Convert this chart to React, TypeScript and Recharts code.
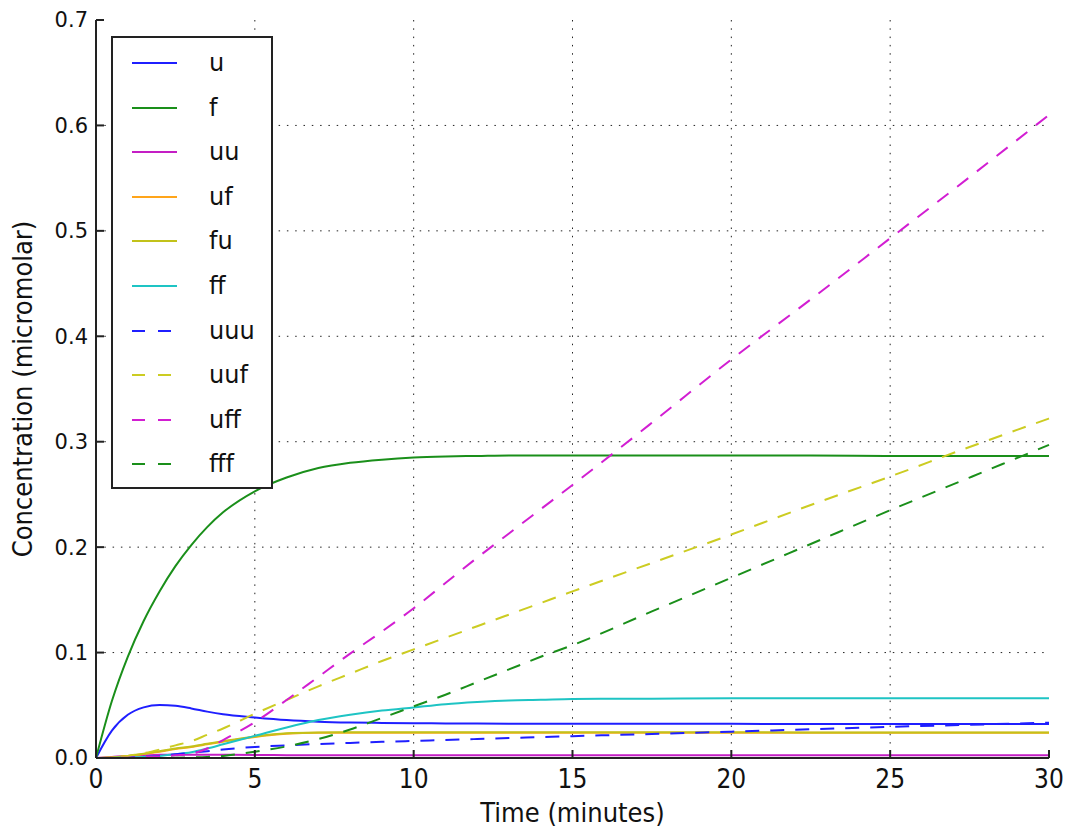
import React from 'react';
import { LineChart, Line, XAxis, YAxis, CartesianGrid } from 'recharts';

const time = [0, 0.5, 1, 1.5, 2, 2.5, 3, 3.5, 4, 5, 6, 7, 8, 9, 10, 11, 12, 13, 14, 15, 17.5, 20, 22.5, 25, 27.5, 30];

const u = [0, 0.026, 0.041, 0.048, 0.0503, 0.0495, 0.047, 0.044, 0.0415, 0.0385, 0.036, 0.0345, 0.0337, 0.0333, 0.033, 0.0328, 0.0327, 0.0326, 0.0325, 0.0325, 0.0324, 0.0324, 0.0323, 0.0323, 0.0323, 0.0323];
const f = [0, 0.054, 0.096, 0.13, 0.158, 0.182, 0.202, 0.219, 0.233, 0.253, 0.266, 0.275, 0.28, 0.283, 0.285, 0.286, 0.2865, 0.287, 0.287, 0.287, 0.287, 0.287, 0.287, 0.2865, 0.2865, 0.2865];
const uu = [0, 0.001, 0.002, 0.0025, 0.003, 0.003, 0.003, 0.003, 0.003, 0.0028, 0.0027, 0.0026, 0.0025, 0.0025, 0.0025, 0.0025, 0.0025, 0.0025, 0.0025, 0.0025, 0.0025, 0.0025, 0.0025, 0.0025, 0.0025, 0.0025];
const uf = [0, 0.0005, 0.0018, 0.0038, 0.006, 0.0085, 0.0105, 0.013, 0.0155, 0.02, 0.023, 0.024, 0.024, 0.024, 0.024, 0.024, 0.024, 0.024, 0.024, 0.024, 0.024, 0.024, 0.024, 0.024, 0.024, 0.024];
const fu = [0, 0.0005, 0.002, 0.004, 0.0065, 0.009, 0.011, 0.0135, 0.016, 0.0205, 0.0235, 0.0243, 0.0245, 0.0245, 0.0245, 0.0245, 0.0245, 0.0245, 0.0245, 0.0244, 0.0244, 0.0244, 0.0243, 0.0243, 0.0243, 0.0243];
const ff = [0, 0.0001, 0.0005, 0.001, 0.002, 0.0035, 0.0055, 0.009, 0.013, 0.021, 0.029, 0.036, 0.041, 0.045, 0.048, 0.051, 0.053, 0.0545, 0.0552, 0.056, 0.0563, 0.0566, 0.0567, 0.0567, 0.0567, 0.0567];
const uuu = [0, 0.0001, 0.0005, 0.001, 0.002, 0.0035, 0.005, 0.0065, 0.008, 0.0105, 0.012, 0.0133, 0.0143, 0.0153, 0.0162, 0.0171, 0.018, 0.0189, 0.0198, 0.0207, 0.0228, 0.025, 0.0272, 0.0295, 0.0315, 0.0335];
const uuf = [0, 0.0005, 0.002, 0.0045, 0.008, 0.012, 0.016, 0.022, 0.028, 0.042, 0.055, 0.068, 0.08, 0.092, 0.103, 0.114, 0.125, 0.136, 0.147, 0.158, 0.185, 0.212, 0.24, 0.267, 0.295, 0.322];
const uff = [0, 0.0001, 0.0003, 0.0008, 0.0015, 0.0025, 0.004, 0.009, 0.017, 0.034, 0.055, 0.077, 0.099, 0.12, 0.142, 0.166, 0.19, 0.213, 0.236, 0.259, 0.318, 0.378, 0.435, 0.493, 0.551, 0.61];
const fff = [0, 0, 0, 0, 0.0001, 0.0002, 0.0005, 0.001, 0.002, 0.006, 0.011, 0.018, 0.027, 0.038, 0.049, 0.06, 0.072, 0.084, 0.096, 0.107, 0.139, 0.171, 0.203, 0.235, 0.266, 0.297];

const xTicks = [0, 5, 10, 15, 20, 25, 30];
const yTicks = [0, 0.1, 0.2, 0.3, 0.4, 0.5, 0.6, 0.7];

const series = [
  { key: 'u', values: u, color: '#1f1fff', dash: undefined },
  { key: 'f', values: f, color: '#1a8f1a', dash: undefined },
  { key: 'uu', values: uu, color: '#c41ec4', dash: undefined },
  { key: 'uf', values: uf, color: '#ffa51a', dash: undefined },
  { key: 'fu', values: fu, color: '#c2c21a', dash: undefined },
  { key: 'ff', values: ff, color: '#1ec4c4', dash: undefined },
  { key: 'uuu', values: uuu, color: '#1f1fff', dash: '14 11' },
  { key: 'uuf', values: uuf, color: '#cccc22', dash: '14 11' },
  { key: 'uff', values: uff, color: '#d21ed2', dash: '14 11' },
  { key: 'fff', values: fff, color: '#1a8f1a', dash: '14 11' },
];

const data = time.map((t, i) => {
  const row: any = { t };
  series.forEach(s => { row[s.key] = s.values[i]; });
  return row;
});

const font = 'DejaVu Sans';
const narrow = '"Liberation Sans Narrow", "DejaVu Sans Condensed", sans-serif';
const noTick = () => <g />;

const Legend = () => (
  <div style={{
    position: 'absolute', left: 111, top: 36, width: 162, height: 453,
    border: '2px solid #222', background: '#fff', boxSizing: 'border-box',
  }}>
    {series.map((s, i) => (
      <div key={s.key} style={{ position: 'absolute', left: 0, top: 8 + i * 44.6, height: 34, width: 160 }}>
        <svg width={60} height={34} style={{ position: 'absolute', left: 19, top: 0 }}>
          <line x1={0} x2={45} y1={17} y2={17} stroke={s.color} strokeWidth={2}
            strokeDasharray={s.dash ? '13 13' : undefined} />
        </svg>
        <span style={{
          position: 'absolute', left: 96, top: 0, lineHeight: '34px',
          fontFamily: font, fontSize: 24, color: '#111',
        }}>{s.key}</span>
      </div>
    ))}
  </div>
);

export default function App() {
  return (
    <div style={{ position: 'absolute', left: 0, top: 0, width: 1067, height: 829, background: '#fff' }}>
      <LineChart width={1067} height={829} data={data}
        margin={{ top: 20, right: 18, bottom: 0, left: 0 }}>
        <CartesianGrid stroke="#222" strokeDasharray="1.5 6.8" strokeWidth={1}
          horizontalValues={[0.1, 0.2, 0.3, 0.4, 0.5, 0.6]} verticalValues={[5, 10, 15, 20, 25]} />
        <XAxis dataKey="t" type="number" domain={[0, 30]} ticks={xTicks} height={71}
          stroke="#222" strokeWidth={2} tickSize={-8} tickMargin={20}
          tick={{ fontFamily: narrow, fontSize: 26, fill: '#111' }}
          label={{ value: 'Time (minutes)', position: 'insideBottom', offset: 7, fontFamily: narrow, fontSize: 27, fill: '#111' }} />
        <XAxis xAxisId="top" orientation="top" dataKey="t" type="number" domain={[0, 30]} ticks={xTicks}
          height={0} stroke="#222" strokeWidth={2} tickSize={-8} tick={noTick} />
        <YAxis type="number" domain={[0, 0.7]} ticks={yTicks} width={96}
          stroke="#222" strokeWidth={2} tickSize={-8} tickMargin={16}
          tickFormatter={(v: number) => v.toFixed(1)}
          tick={{ fontFamily: font, fontSize: 21, fill: '#111' }}
          label={{ value: 'Concentration (micromolar)', angle: -90, position: 'insideLeft', offset: 22, style: { textAnchor: 'middle' }, fontFamily: narrow, fontSize: 27, fill: '#111' }} />
        <YAxis yAxisId="right" orientation="right" type="number" domain={[0, 0.7]} ticks={yTicks} width={0}
          stroke="#222" strokeWidth={2} tickSize={-8} tick={noTick} />
        {series.map(s => (
          <Line key={s.key} dataKey={s.key} type="monotone" stroke={s.color} strokeWidth={2}
            strokeDasharray={s.dash} dot={false} isAnimationActive={false} />
        ))}
      </LineChart>
      <Legend />
    </div>
  );
}
